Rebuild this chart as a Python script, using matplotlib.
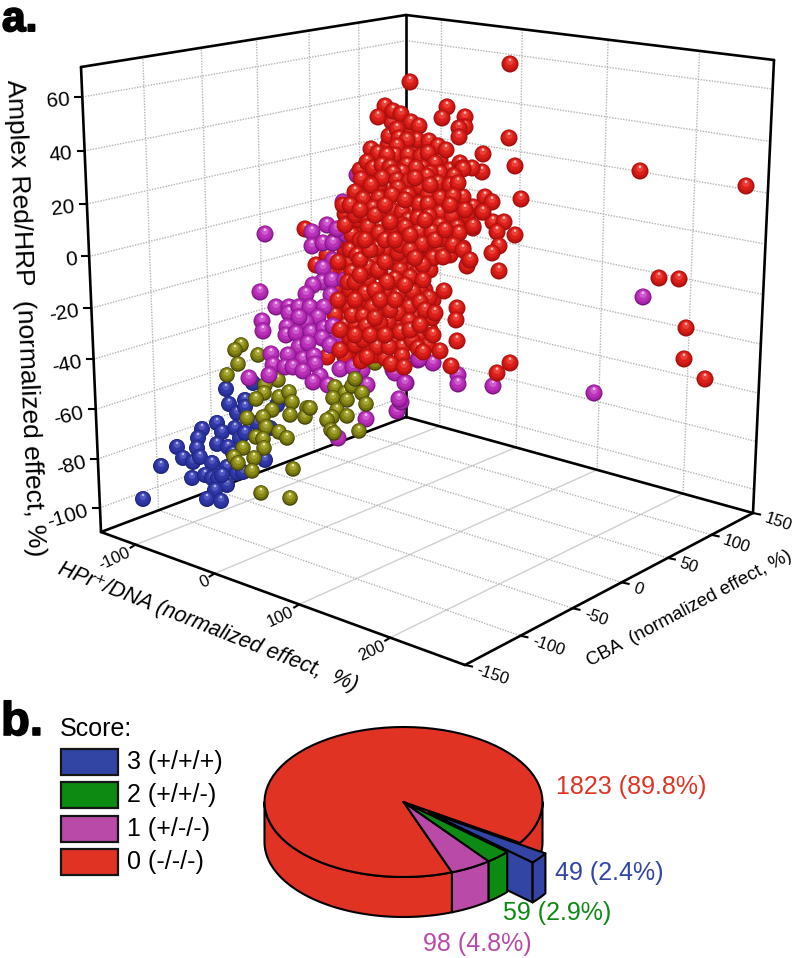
import numpy as np
import matplotlib
matplotlib.use('Agg')
import matplotlib.pyplot as plt
import matplotlib.patheffects as pe
from matplotlib.patches import Polygon, Rectangle

plt.rcParams['font.family'] = ['Liberation Sans', 'DejaVu Sans']

# axis ticks
hpi_ticks = [-100, 0, 100, 200]
cba_ticks = [-150, -100, -50, 0, 50, 100, 150]
amp_ticks = [60, 40, 20, 0, -20, -40, -60, -80, -100]
amp_tick_rot = [4, 5, 6, 7, 9, 11, 13, 15, 17]

# spheres (across, down)
blue_pts = [(226,389),(253,383),(229,404),(245,400),(237,413),(245,407),(217,423),(202,429),(198,438),
            (222,432),(235,428),(217,444),(240,438),(245,433),(257,423),(270,428),(277,405),(197,448),
            (177,447),(183,458),(193,462),(200,457),(161,466),(212,463),(192,478),(205,475),(212,478),
            (218,478),(227,467),(237,473),(228,447),(233,453),(265,460),(227,485),(215,490),(143,499),
            (207,499),(221,501),(222,475),(243,472)]
olive_back = [(241,345),(235,350),(238,364),(227,375),(258,355),(278,380),(265,385),(264,393),(256,399),
              (279,397),(289,392),(292,402),(272,410),(263,417),(247,418),(290,415),(307,408),(305,417),
              (266,427),(279,432),(287,438),(256,437),(263,439),(264,448),(243,448),(234,457),(238,463),
              (254,458),(252,471),(293,469),(261,493),(290,498)]
olive_front = [(375,363),(335,387),(345,393),(352,386),(355,379),(362,393),(366,404),(333,398),(347,400),
               (310,408),(337,410),(332,417),(347,416),(327,420),(331,430),(334,433),(359,431)]
red_back = [(305,229),(316,265),(342,304),(345,325),(347,347),(327,357),(358,360),(327,255),(345,250),
            (335,240),(330,275),(335,290),(345,275),(345,300),(335,315),(345,338),(340,240),(350,240),
            (343,262),(350,290),(350,308),(356,325),(352,352),(345,357)]
purple_pts = [(357,175),(343,202),(265,234),(260,292),(262,321),(263,331),(312,232),(327,225),(312,246),
              (323,243),(333,243),(346,234),(337,229),(333,260),(323,268),(322,282),(332,280),(345,280),
              (313,285),(306,294),(331,295),(276,307),(289,307),(289,313),(299,307),(310,307),(324,307),
              (318,317),(306,322),(299,317),(287,327),(286,335),(296,333),(311,332),(324,328),(333,326),
              (322,338),(338,338),(330,345),(299,347),(308,343),(271,354),(288,355),(303,359),(314,356),
              (315,364),(273,365),(285,367),(293,367),(303,371),(269,375),(249,378),(320,376),(313,382),
              (340,369),(362,370),(353,367),(367,385),(366,419),(397,411),(401,402),(406,383),(338,438),
              (328,385),(393,370),(385,358),(395,373),(418,360),(433,363),(458,375),(458,384),(493,386),
              (399,399),(643,297),(594,393),(419,359),(405,383)]
red_fill = [(352,222),(362,228),(372,222),(384,218),(396,216),(412,212),(420,212),(436,205),(447,208),
            (375,175),(385,172),(368,190),(388,188),(405,188),(415,192),(432,188),(445,190),(375,160),
            (400,152),(415,150),(430,150),(388,145),(410,130),(392,122),(352,235),(372,240),(392,238),
            (408,240),(424,236),(438,228),(452,240),(350,262),(365,255),(378,258),(392,262),(405,262),
            (418,252),(430,250),(352,272),(368,280),(380,272),(405,275),(415,282),(430,270),(358,305),
            (392,288),(405,300),(416,300),(370,296),(352,315),(372,330),(395,340),(408,342),(360,348),
            (375,355),(385,358),(420,335),(428,345),(340,350),(350,338),(362,332),
            (360,170),(370,200),(358,220),(345,214),(400,160),(412,160),(425,162),(440,160),(450,170),
            (445,215),(410,225),(425,245),(440,250),(450,255),(372,262),(385,250),(400,260),(412,270),
            (425,290),(433,300),(420,290),(405,312),(415,315),(425,320),(392,330),(378,340),(368,347),
            (398,322),(382,312),(370,315),(360,290),(348,282),(368,302),(402,347),(412,340),(430,330),
            (355,345),(340,330),(338,300),(338,262),(350,250),(365,272),(385,292)]
red_front = [(510,64),(410,82),(447,107),(442,118),(465,117),(465,127),(459,128),(459,137),(509,138),
             (483,154),(515,166),(482,172),(521,199),(485,197),(492,202),(473,207),(482,212),(465,211),
             (467,217),(453,197),(463,197),(460,163),(472,168),(462,168),(453,176),(493,222),(504,222),
             (497,232),(515,235),(473,228),(458,232),(452,217),(499,246),(492,253),(463,248),(469,260),
             (467,266),(499,271),(444,291),(457,308),(456,320),(433,335),(457,341),(432,318),(429,298),
             (640,171),(746,186),(659,278),(679,279),(686,328),(684,359),(705,379),(510,363),(497,373),
             (451,366),
             (385,106),(378,117),(393,111),(401,114),(411,122),(419,126),(389,136),(397,129),(399,138),
             (417,140),(429,141),(407,140),(438,146),(446,150),(371,149),(378,153),(397,146),(395,155),
             (387,155),(408,155),(421,156),(428,153),(367,162),(373,168),(382,165),(390,167),(407,165),
             (435,163),(423,168),(416,168),(402,172),(393,173),(440,173),(430,173),(463,169),(454,176),
             (361,179),(379,185),(382,178),(397,180),(409,181),(420,187),(427,176),(438,183),(450,185),
             (458,183),(398,188),(371,185),(355,192),(363,199),(379,198),(392,195),(408,195),(428,195),
             (440,198),(453,196),(343,205),(352,207),(365,217),(373,208),(380,215),(392,210),(402,212),
             (419,204),(428,204),(440,213),(429,216),(452,216),(467,216),(483,212),(465,210),(408,220),
             (418,218),(402,225),(380,227),(368,227),(392,228),(430,227),(440,225),(457,227),(473,226),
             (360,240),(379,233),(392,227),(405,227),(419,232),(432,232),(442,239),(459,233),(422,244),
             (398,253),(377,248),(357,255),(433,258),(443,257),(453,245),(463,250),(470,260),(368,267),
             (378,270),(400,270),(417,272),(410,277),(395,279),(423,265),(355,282),(387,282),(423,280),
             (365,293),(377,292),(398,295),(413,292),(355,300),(372,307),(386,304),(409,307),(420,302),
             (425,310),(398,313),(435,313),(363,316),(388,322),(366,326),(380,323),(409,321),(400,332),
             (363,340),(377,347),(389,347),(418,348),(423,352),(440,351),(402,356),(391,364),(404,367),
             (361,361),(367,357),
             (345,225),(355,215),(360,260),(370,250),(385,240),(400,245),(410,250),(415,258),(385,262),
             (395,240),(375,215),(350,205),(360,210),(390,222),(410,235),(425,220),(435,240),(445,230),
             (450,205),(430,185),(415,178),(405,200),(385,205),(365,240),(355,335),(370,335),(385,335),
             (390,310),(375,290),(360,275),(405,285),(375,318),(380,300),(395,300),(410,330),(420,325)]

# pie
pie_counts = [1823, 98, 59, 49]
pie_labels = ['1823 (89.8%)', '98 (4.8%)', '59 (2.9%)', '49 (2.4%)']
score_labels = ['3 (+/+/+)', '2 (+/+/-)', '1 (+/-/-)', '0 (-/-/-)']

RED = '#e03324'
PURPLE = '#b94aa8'
GREEN = '#0d8a12'
BLUE = '#3245a5'

shades = {
    'red': ['#a00e0e', '#c41512', '#dc1f18', '#ea4038', '#ffb8b0'],
    'purple': ['#7a157f', '#a823aa', '#bb32b8', '#cf5cce', '#f0bcf0'],
    'olive': ['#3f3f05', '#6e6e10', '#8a8a14', '#a8a83a', '#eeeeb0'],
    'blue': ['#1c2478', '#2a309a', '#3138a8', '#5258bf', '#b4b8ec'],
}
layer_scale = [1.0, 0.90, 0.70, 0.42, 0.16]
layer_lift = [0, 0.07, 0.16, 0.30, 0.50]

fig = plt.figure(figsize=(8, 9.58), dpi=100)
ax = fig.add_axes([0, 0, 1, 1])
ax.set_xlim(0, 800)
ax.set_ylim(958, 0)
ax.axis('off')


def homography(dst):
    # unit square -> picture quad
    src = [(0, 0), (1, 0), (1, 1), (0, 1)]
    A, b = [], []
    for (s, t), (x, y) in zip(src, dst):
        A.append([s, t, 1, 0, 0, 0, -s*x, -t*x])
        A.append([0, 0, 0, s, t, 1, -s*y, -t*y])
        b += [x, y]
    h = np.linalg.solve(np.array(A, float), np.array(b, float))
    return np.append(h, 1).reshape(3, 3)


def warp(H, s, t):
    w = H @ np.array([s, t, 1.0])
    return w[0]/w[2], w[1]/w[2]


HPI_MIN, HPI_MAX = -146, 277
CBA_MIN, CBA_MAX = -150, 150
AMP_MIN, AMP_MAX = -110, 71

left_top, back_top, right_top = (81, 67), (406, 15), (774, 60)
left_bot, back_bot, right_bot, front_bot = (101, 532), (406, 417), (753, 513), (465, 665)

H_floor = homography([left_bot, front_bot, right_bot, back_bot])   # s=hpi, t=cba
H_left = homography([left_bot, back_bot, back_top, left_top])      # s=cba, t=amp
H_right = homography([back_bot, right_bot, right_top, back_top])   # s=hpi, t=amp


def sh(v): return (v - HPI_MIN)/(HPI_MAX - HPI_MIN)
def sc(v): return (v - CBA_MIN)/(CBA_MAX - CBA_MIN)
def sa(v): return (v - AMP_MIN)/(AMP_MAX - AMP_MIN)


def seg(p, q, **kw):
    ax.plot([p[0], q[0]], [p[1], q[1]], **kw)


dotted = dict(color='#b4b4b4', lw=1.0, ls=(0, (1, 1)), zorder=1)
solid = dict(color='#cfcfcf', lw=1.0, zorder=1)

# walls and floor grid
for v in hpi_ticks:
    seg(warp(H_floor, sh(v), 0), warp(H_floor, sh(v), 1), **solid)
    seg(warp(H_right, sh(v), 0), warp(H_right, sh(v), 1), **dotted)
for v in cba_ticks[1:-1]:
    seg(warp(H_floor, 0, sc(v)), warp(H_floor, 1, sc(v)), **dotted)
    seg(warp(H_left, sc(v), 0), warp(H_left, sc(v), 1), **dotted)
for v in amp_ticks:
    seg(warp(H_left, 0, sa(v)), warp(H_left, 1, sa(v)), **dotted)
    seg(warp(H_right, 0, sa(v)), warp(H_right, 1, sa(v)), **dotted)

# box frame
frame = dict(color='black', lw=1.9, zorder=2, solid_capstyle='round')
for p, q in [(left_top, back_top), (back_top, right_top), (left_top, left_bot), (back_top, back_bot),
             (right_top, right_bot), (left_bot, back_bot), (back_bot, right_bot),
             (right_bot, front_bot), (front_bot, left_bot)]:
    seg(p, q, **frame)

tick_kw = dict(color='black', lw=1.5, zorder=2)
for v, rot in zip(amp_ticks, amp_tick_rot):
    x, y = warp(H_left, 0, sa(v))
    seg((x - 7, y), (x, y), **tick_kw)
    ax.text(x - 12, y + 3, str(v), rotation=rot, rotation_mode='anchor', ha='right', va='center', fontsize=15)
for v in hpi_ticks:
    x, y = warp(H_floor, sh(v), 0)
    seg((x - 5, y + 3), (x, y), **tick_kw)
    ax.text(x - 6, y + 7, str(v), rotation=25, rotation_mode='anchor', ha='right', va='center', fontsize=12)
for v in cba_ticks:
    x, y = warp(H_floor, 1, sc(v))
    seg((x, y), (x + 7, y + 1.5), **tick_kw)
    ax.text(x + 12, y + 5, str(v), rotation=-19, rotation_mode='anchor', ha='left', va='center', fontsize=12)

ax.text(25, 318, 'Amplex Red/HRP  (normalized effect, %)', rotation=-87.4, rotation_mode='anchor',
        ha='center', va='center', fontsize=19)
ax.text(208, 627, 'HPr⁺/DNA (normalized effect,  %)', rotation=-21.6, rotation_mode='anchor',
        ha='center', va='center', fontsize=15.5, style='italic')
ax.text(689, 609, 'CBA  (normalized effect, %)', rotation=28, rotation_mode='anchor',
        ha='center', va='center', fontsize=13.5)

# spheres, painted back to front so overlaps come out right
groups = [(blue_pts, 'blue', 16), (olive_back, 'olive', 15.5), (red_back, 'red', 17),
          (purple_pts, 'purple', 17), (olive_front, 'olive', 15.5), (red_fill, 'red', 17),
          (red_front, 'red', 17)]
px, py, ss, cc = [], [], [], []
for pts, name, d in groups:
    for x, y in pts:
        for scale, lift, col in zip(layer_scale, layer_lift, shades[name]):
            px.append(x)
            py.append(y - lift*d/2)
            ss.append((d*scale*0.72)**2)
            cc.append(col)
ax.scatter(px, py, s=ss, c=cc, linewidths=0, zorder=3)

# panel letters
ax.text(2, 31, 'a.', fontsize=30.5, fontweight='bold', ha='left', va='baseline',
        path_effects=[pe.withStroke(linewidth=1.4, foreground='black')])
ax.text(1, 735, 'b.', fontsize=34, fontweight='bold', ha='left', va='baseline',
        path_effects=[pe.withStroke(linewidth=1.2, foreground='black')])

# legend
ax.text(60, 729, 'Score:', fontsize=18, ha='left', va='center')
swatch_top = [749, 782, 816, 849]
for top, col, lab in zip(swatch_top, [BLUE, GREEN, PURPLE, RED], score_labels):
    ax.add_patch(Rectangle((61, top), 57, 26, facecolor=col, edgecolor='#151515', lw=1.6))
    ax.text(127, top + 13, lab, fontsize=18, ha='left', va='center')

# 3D pie, angles counted anticlockwise as seen on the picture
cx, cy, ra, rb, depth = 403.5, 802.0, 139.0, 75.0, 40.0
degs = np.array(pie_counts)/sum(pie_counts)*360
t0 = -69.6
t_purple = (t0, t0 + degs[1])
t_green = (t_purple[1], t_purple[1] + degs[2])
t_blue = (t_green[1], t_green[1] + degs[3])
t_red = (t_blue[1], t0 + 360)


def arc(a, b, ox=0.0, oy=0.0):
    t = np.radians(np.linspace(a, b, 80))
    return np.column_stack([cx + ox + ra*np.cos(t), cy + oy - rb*np.sin(t)])


def wall(a, b, col, ox=0.0, oy=0.0):
    top = arc(a, b, ox, oy)
    low = top[::-1] + [0, depth]
    ax.add_patch(Polygon(np.vstack([top, low]), closed=True, facecolor=col, edgecolor='black', lw=1.5,
                         joinstyle='round', zorder=4))


def top_face(a, b, col, ox=0.0, oy=0.0):
    pts = np.vstack([[cx + ox, cy + oy], arc(a, b, ox, oy)])
    ax.add_patch(Polygon(pts, closed=True, facecolor=col, edgecolor='black', lw=1.5,
                         joinstyle='round', zorder=4))


def cut_face(t, col, ox=0.0, oy=0.0):
    p = arc(t, t, ox, oy)[0]
    c = np.array([cx + ox, cy + oy])
    pts = np.array([c, p, p + [0, depth], c + [0, depth]])
    ax.add_patch(Polygon(pts, closed=True, facecolor=col, edgecolor='black', lw=1.5,
                         joinstyle='round', zorder=4))


mid = np.radians(sum(t_blue)/2)
ox, oy = 0.23*ra*np.cos(mid), -0.23*rb*np.sin(mid)

wall(t_red[0], 0, RED)
wall(180, t_red[1], RED)
# cut sides go under the top faces, only their outer ends stay visible
cut_face(t_red[0], RED)
cut_face(t_blue[0], BLUE, ox, oy)
top_face(t_red[0], t_red[1], RED)
wall(*t_purple, PURPLE)
wall(*t_green, GREEN)
top_face(*t_purple, PURPLE)
top_face(*t_green, GREEN)
wall(*t_blue, BLUE, ox, oy)
top_face(*t_blue, BLUE, ox, oy)

ax.text(556, 787, pie_labels[0], color=RED, fontsize=18, ha='left', va='center')
ax.text(423, 944, pie_labels[1], color=PURPLE, fontsize=18, ha='left', va='center')
ax.text(503, 913, pie_labels[2], color=GREEN, fontsize=18, ha='left', va='center')
ax.text(555, 873, pie_labels[3], color=BLUE, fontsize=18, ha='left', va='center')

fig.savefig('out.png', dpi=100)
